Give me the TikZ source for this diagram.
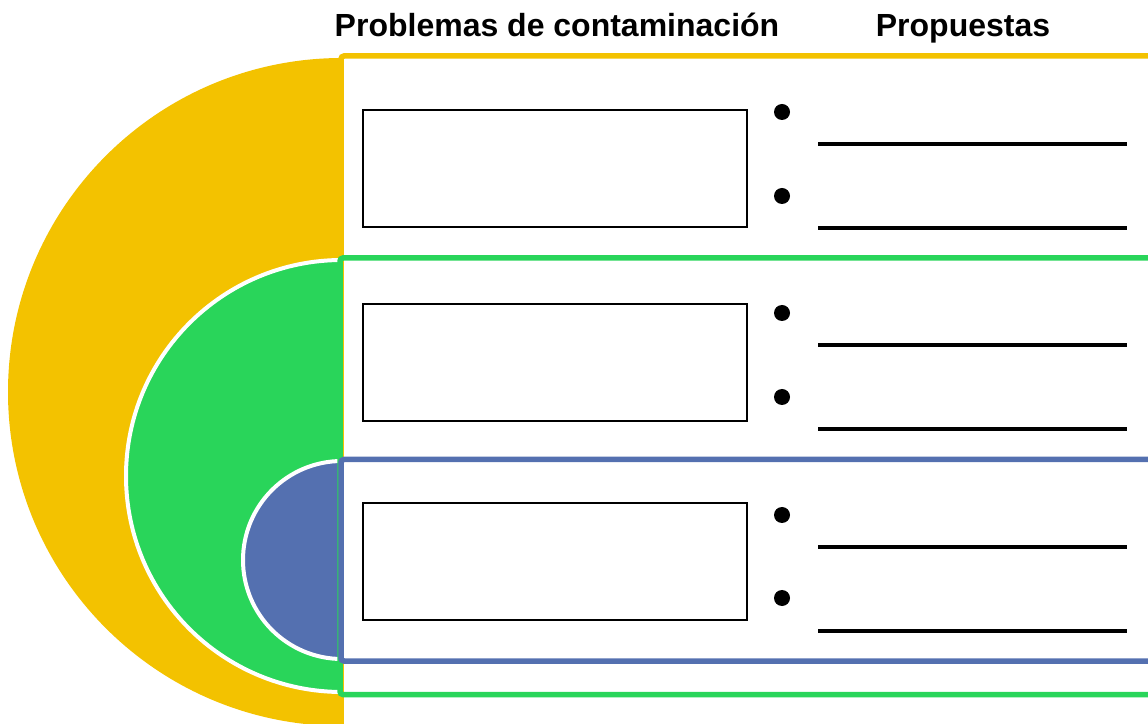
\documentclass[tikz,border=0pt]{standalone}
\usepackage{fontspec}
\setmainfont{Liberation Sans}
\definecolor{cyel}{HTML}{F3C200}
\definecolor{cgrn}{HTML}{29D55A}
\definecolor{cblu}{HTML}{5470B0}
\tikzset{
  probbox/.style={draw=black, fill=white, line width=2pt, minimum width=384pt, minimum height=117pt, inner sep=0pt},
  bulletdot/.style={circle, fill=black, minimum size=16pt, inner sep=0pt},
  answerline/.style={black, line width=3.5pt},
  title/.style={font=\bfseries\fontsize{32}{38}\selectfont, anchor=base, inner sep=0pt},
  frameline/.style={line width=5.5pt, rounded corners=3pt},
  halfdisk/.style={draw=white, line width=4pt}
}
\begin{document}
\begin{tikzpicture}[x=1pt,y=1pt]
\useasboundingbox (0,0) rectangle (1148,723);
% half disks
\fill[cyel] (342,665) arc[start angle=90, end angle=270, radius=334] -- cycle;
\fill[cgrn] (342,463) arc[start angle=90, end angle=270, radius=216] -- cycle;
\draw[white, line width=4pt] (342,463) arc[start angle=90, end angle=270, radius=216];
\fill[cblu] (342,262) arc[start angle=90, end angle=270, radius=99] -- cycle;
\draw[white, line width=4pt] (342,262) arc[start angle=90, end angle=270, radius=99];
% frames
\coordinate (yA) at (1170,667);
\coordinate (yB) at (341,667);
\coordinate (yC) at (341,-20);
\draw[cyel, frameline] (yA) -- (yB) -- (yC);
\coordinate (gA) at (1170,465);
\coordinate (gB) at (340,465);
\coordinate (gC) at (340,28.5);
\coordinate (gD) at (1170,28.5);
\draw[cgrn, frameline] (gA) -- (gB) -- (gC) -- (gD);
\coordinate (bA) at (1170,263.5);
\coordinate (bB) at (341,263.5);
\coordinate (bC) at (341,62);
\coordinate (bD) at (1170,62);
\draw[cblu, frameline] (bA) -- (bB) -- (bC) -- (bD);
% titles
\node[title] (t1) at (557,686.5) {Problemas de contaminación};
\node[title] (t2) at (963,686.5) {Propuestas};
% boxes
\node[probbox] (p1) at (555,554.5) {};
\node[probbox] (p2) at (555,360.5) {};
\node[probbox] (p3) at (555,161.5) {};
% bullets
\node[bulletdot] (d1) at (782,611) {};
\node[bulletdot] (d2) at (782,527) {};
\node[bulletdot] (d3) at (782,410) {};
\node[bulletdot] (d4) at (782,326) {};
\node[bulletdot] (d5) at (782,208) {};
\node[bulletdot] (d6) at (782,125) {};
% answer lines
\coordinate (l1a) at (818,579); \coordinate (l1b) at (1127,579);
\coordinate (l2a) at (818,495); \coordinate (l2b) at (1127,495);
\coordinate (l3a) at (818,378); \coordinate (l3b) at (1127,378);
\coordinate (l4a) at (818,294); \coordinate (l4b) at (1127,294);
\coordinate (l5a) at (818,176); \coordinate (l5b) at (1127,176);
\coordinate (l6a) at (818,92); \coordinate (l6b) at (1127,92);
\draw[answerline] (l1a) -- (l1b);
\draw[answerline] (l2a) -- (l2b);
\draw[answerline] (l3a) -- (l3b);
\draw[answerline] (l4a) -- (l4b);
\draw[answerline] (l5a) -- (l5b);
\draw[answerline] (l6a) -- (l6b);
\end{tikzpicture}
\end{document}
